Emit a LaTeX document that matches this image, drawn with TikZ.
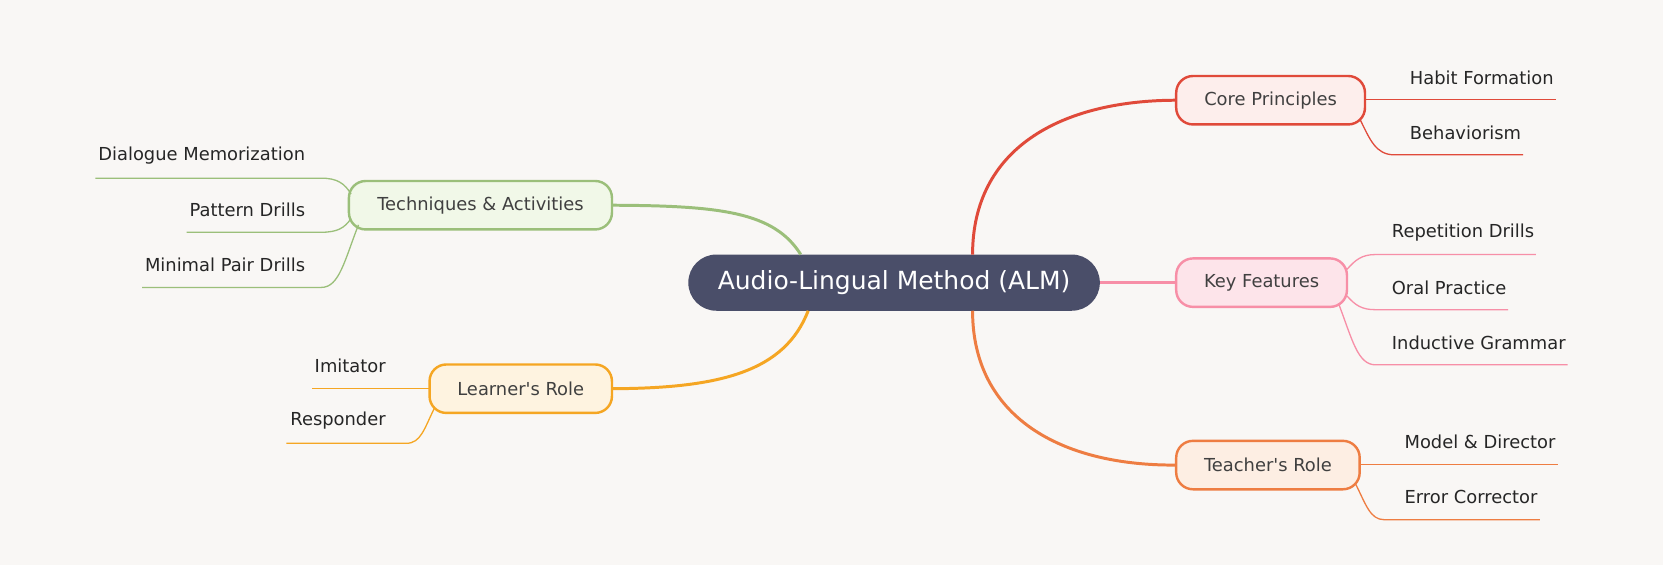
\documentclass[tikz,border=0pt]{standalone}
\usepackage{fontspec}
\setmainfont{DejaVu Sans}
\begin{document}
\begin{tikzpicture}[x=0.02cm,y=-0.02cm,
  br/.style={draw,line width=1.3pt,rounded corners=9pt,minimum height=26pt,inner sep=0pt,text=black!75,font=\fontsize{9.6}{11}\selectfont},
  lf/.style={anchor=west,font=\fontsize{9.6}{11}\selectfont,text=black!85,inner sep=0pt},
  lk/.style={line width=0.7pt}]
\definecolor{bg}{HTML}{F9F7F5}
\definecolor{cen}{HTML}{4A4E69}
\definecolor{cr}{HTML}{E04A3A}\definecolor{crf}{HTML}{FDEEEC}
\definecolor{pk}{HTML}{F78FA7}\definecolor{pkf}{HTML}{FDE4EA}
\definecolor{or}{HTML}{EE7D42}\definecolor{orf}{HTML}{FDEEE3}
\definecolor{gr}{HTML}{9BBF7A}\definecolor{grf}{HTML}{F1F8E8}
\definecolor{am}{HTML}{F5A623}\definecolor{amf}{HTML}{FEF3E0}
\fill[bg] (0,0) rectangle (1568,533);
\useasboundingbox (0,0) rectangle (1568,533);
\node[fill=cen,rounded corners=15pt,minimum width=388*0.02cm,minimum height=53*0.02cm,text=white,font=\fontsize{13.4}{15}\selectfont] (c) at (843,266.5) {Audio-Lingual Method (ALM)};
\node[br,draw=cr,fill=crf,minimum width=178*0.02cm] (cp) at (1198,94.5) {Core Principles};
\node[br,draw=pk,fill=pkf,minimum width=161*0.02cm] (kf) at (1189.5,266.5) {Key Features};
\node[br,draw=or,fill=orf,minimum width=173*0.02cm] (tr) at (1195.5,438.5) {Teacher\textquotesingle s Role};
\node[br,draw=gr,fill=grf,minimum width=248*0.02cm] (ta) at (453,193.5) {Techniques \& Activities};
\node[br,draw=am,fill=amf,minimum width=172*0.02cm] (lr) at (491,366.5) {Learner\textquotesingle s Role};
% main connectors
\coordinate (c1) at (917,240);\coordinate (c2) at (917,293);
\coordinate (c3) at (755,240);\coordinate (c4) at (762,293);
\draw[cr,line width=1.6pt] (c1) .. controls (917,140) and (1000,95) .. (cp.west);
\draw[pk,line width=1.6pt] (c.east) -- (kf.west);
\draw[or,line width=1.6pt] (c2) .. controls (917,393) and (1000,439) .. (tr.west);
\draw[gr,line width=1.6pt] (c3) .. controls (730,200) and (680,194) .. (ta.east);
\draw[am,line width=1.6pt] (c4) .. controls (740,350) and (680,366) .. (lr.east);
% leaves core
\node[lf] (l1) at (1329,73) {Habit Formation};
\node[lf] (l2) at (1329,125) {Behaviorism};
\coordinate (a1) at (1287,94);\coordinate (b1) at (1467,94);
\coordinate (a2) at (1282,112);\coordinate (b2) at (1436,146);
\draw[cr,lk] (a1) -- (b1);
\draw[cr,lk] (a2) .. controls (1292,132) and (1297,146) .. (1315,146) -- (b2);
% key
\node[lf] (l3) at (1312,219) {Repetition Drills};
\node[lf] (l4) at (1312,271) {Oral Practice};
\node[lf] (l5) at (1312,323) {Inductive Grammar};
\coordinate (a3) at (1270,254);\coordinate (b3) at (1448,240);
\coordinate (a4) at (1270,279);\coordinate (b4) at (1422,292);
\coordinate (a5) at (1262,286);\coordinate (b5) at (1478,344);
\draw[pk,lk] (a3) .. controls (1278,245) and (1284,240) .. (1297,240) -- (b3);
\draw[pk,lk] (a4) .. controls (1278,288) and (1284,292) .. (1297,292) -- (b4);
\draw[pk,lk] (a5) .. controls (1275,320) and (1280,344) .. (1297,344) -- (b5);
% teacher
\node[lf] (l6) at (1324,417) {Model \& Director};
\node[lf] (l7) at (1324,469) {Error Corrector};
\coordinate (a6) at (1282,438);\coordinate (b6) at (1469,438);
\coordinate (a7) at (1278,456);\coordinate (b7) at (1452,490);
\draw[or,lk] (a6) -- (b6);
\draw[or,lk] (a7) .. controls (1288,476) and (1292,490) .. (1305,490) -- (b7);
% techniques
\node[lf,anchor=east] (l8) at (288,147) {Dialogue Memorization};
\node[lf,anchor=east] (l9) at (288,198) {Pattern Drills};
\node[lf,anchor=east] (l10) at (288,250) {Minimal Pair Drills};
\coordinate (a8) at (331,183);\coordinate (b8) at (90,168);
\coordinate (a9) at (331,206);\coordinate (b9) at (176,219);
\coordinate (a10) at (338,212);\coordinate (b10) at (134,271);
\draw[gr,lk] (a8) .. controls (325,173) and (318,168) .. (303,168) -- (b8);
\draw[gr,lk] (a9) .. controls (325,215) and (318,219) .. (303,219) -- (b9);
\draw[gr,lk] (a10) .. controls (325,245) and (320,271) .. (303,271) -- (b10);
% learner
\node[lf,anchor=east] (l11) at (364,345) {Imitator};
\node[lf,anchor=east] (l12) at (364,397) {Responder};
\coordinate (a11) at (405,366);\coordinate (b11) at (294,366);
\coordinate (a12) at (410,384);\coordinate (b12) at (270,418);
\draw[am,lk] (a11) -- (b11);
\draw[am,lk] (a12) .. controls (400,404) and (397,418) .. (383,418) -- (b12);
\end{tikzpicture}
\end{document}
